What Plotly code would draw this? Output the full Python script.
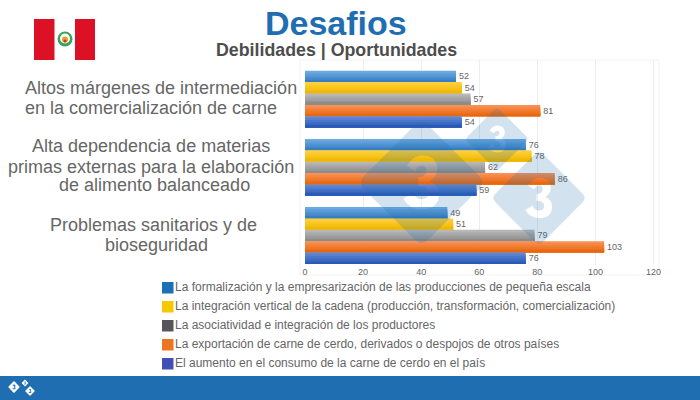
import plotly.graph_objects as go

W = 700
H = 400

# data
categories = ['Altos márgenes', 'Alta dependencia', 'Problemas sanitarios']
category_lines = ['Altos márgenes de intermediación', 'en la comercialización de carne',
                  'Alta dependencia de materias', 'primas externas para la elaboración',
                  'de alimento balanceado',
                  'Problemas sanitarios y de', 'bioseguridad']
series_names = ['La formalización y la empresarización de las producciones de pequeña escala',
                'La integración vertical de la cadena (producción, transformación, comercialización)',
                'La asociatividad e integración de los productores',
                'La exportación de carne de cerdo, derivados o despojos de otros países',
                'El aumento en el consumo de la carne de cerdo en el país']
formalizacion = [52, 76, 49]
integracion = [54, 78, 51]
asociatividad = [57, 62, 79]
exportacion = [81, 86, 103]
consumo = [54, 59, 76]
series_values = [formalizacion, integracion, asociatividad, exportacion, consumo]

# styles
line_x = [161, 151, 151, 151, 154, 153, 156]
line_y = [88, 108, 146, 166.5, 185, 225, 245]
bar_tops = [(108, 170, 226), (255, 208, 60), (184, 184, 184), (250, 144, 84), (96, 136, 214)]
bar_bottoms = [(56, 126, 194), (240, 184, 0), (140, 140, 140), (232, 104, 16), (42, 90, 184)]
legend_colors = ['#1a6fb5', '#f5c800', '#54565b', '#ec7524', '#4250b5']
BLUE = '#1f6eb1'
TEXT = '#666666'
FONT = 'Liberation Sans'
BAR_H = 0.167
STRIPES = 6


def px(x, y):
    return x / W, 1 - y / H


def pt(x, y):
    a, b = px(x, y)
    return f'{a:.5f} {b:.5f}'


def rect(x0, y0, x1, y1, color, **kw):
    a, b = px(x0, y1)
    c, d = px(x1, y0)
    return dict(type='rect', xref='paper', yref='paper', x0=a, y0=b, x1=c, y1=d,
                fillcolor=color, line_width=0, **kw)


def circle(cx, cy, r, color, **kw):
    return rect(cx - r, cy - r, cx + r, cy + r, color, **kw) | dict(type='circle')


def diamond_with_three(cx, cy, h, color, opacity, layer='above'):
    # rounded diamond, the 3 is a hole so the bars show through it
    r = h * 0.1
    d = [
        f'M {pt(cx - r, cy - h + r)}',
        f'L {pt(cx - h + r, cy - r)}', f'Q {pt(cx - h, cy)} {pt(cx - h + r, cy + r)}',
        f'L {pt(cx - r, cy + h - r)}', f'Q {pt(cx, cy + h)} {pt(cx + r, cy + h - r)}',
        f'L {pt(cx + h - r, cy + r)}', f'Q {pt(cx + h, cy)} {pt(cx + h - r, cy - r)}',
        f'L {pt(cx + r, cy - h + r)}', f'Q {pt(cx, cy - h)} {pt(cx - r, cy - h + r)}', 'Z']
    s = h * 0.42
    n = lambda a, b: pt(cx + a * s, cy + b * s)
    d += [f'M {n(-.55, -.62)}',
          f'Q {n(-.3, -1)} {n(.02, -1)}', f'Q {n(.58, -1)} {n(.58, -.5)}',
          f'Q {n(.58, -.18)} {n(.3, -.05)}', f'Q {n(.65, .08)} {n(.65, .42)}',
          f'Q {n(.65, 1)} {n(0, 1)}', f'Q {n(-.45, 1)} {n(-.68, .6)}',
          f'L {n(-.32, .38)}', f'Q {n(-.2, .62)} {n(0, .62)}',
          f'Q {n(.25, .62)} {n(.25, .38)}', f'Q {n(.25, .14)} {n(-.12, .14)}',
          f'L {n(-.12, -.2)}', f'Q {n(.18, -.2)} {n(.18, -.45)}',
          f'Q {n(.18, -.62)} {n(0, -.62)}', f'Q {n(-.14, -.62)} {n(-.24, -.42)}', 'Z']
    return dict(type='path', xref='paper', yref='paper', path=' '.join(d),
                fillcolor=color, opacity=opacity, line_width=0, layer=layer)


fig = go.Figure()

# each bar is a pile of shrinking bars to get the vertical gradient
for i, values in enumerate(series_values):
    top = -5 * BAR_H / 2 + i * BAR_H
    for k in range(STRIPES):
        t = k / (STRIPES - 1)
        c = [round(a + (b - a) * t) for a, b in zip(bar_tops[i], bar_bottoms[i])]
        fig.add_trace(go.Bar(y=categories, x=values, orientation='h',
                             width=BAR_H * (1 - k / STRIPES),
                             offset=top + k * BAR_H / STRIPES,
                             marker=dict(color=f'rgb({c[0]},{c[1]},{c[2]})', line_width=0),
                             showlegend=False, hoverinfo='skip'))
    # transparent bar only carries the value label
    fig.add_trace(go.Bar(y=categories, x=values, orientation='h', width=BAR_H, offset=top,
                         marker=dict(color='rgba(0,0,0,0)', line_width=0),
                         text=values, textposition='outside', cliponaxis=False,
                         textfont=dict(size=9, color=TEXT, family=FONT),
                         showlegend=False, name=series_names[i]))

shapes = [
    rect(0, 376, 700, 400, BLUE, layer='below'),
    rect(34, 19, 54.5, 60, '#dc1126', layer='below'),
    rect(75, 19, 95, 60, '#dc1126', layer='below'),
    circle(65, 39, 7.5, '#3aa35a', layer='below'),
    circle(65, 38.5, 5, '#ffffff', layer='below'),
    circle(65, 39.5, 3, '#e0a030', layer='below'),
    circle(65, 41, 1.5, '#d03030', layer='below'),
    diamond_with_three(421.5, 182.5, 64, BLUE, 0.2),
    diamond_with_three(497, 139, 32, BLUE, 0.2),
    diamond_with_three(539, 198, 48, BLUE, 0.2),
    diamond_with_three(14, 387, 6, '#ffffff', 1),
    diamond_with_three(25, 383, 3.5, '#ffffff', 1),
    diamond_with_three(30, 391, 5, '#ffffff', 1),
]
a, b = px(300, 275)
c, d = px(659, 60)
shapes.append(dict(type='rect', xref='paper', yref='paper', x0=a, y0=b, x1=c, y1=d,
                   line=dict(color='#f2f2f2', width=1), layer='below'))

annotations = [
    dict(text='<b>Desafios</b>', x=336 / W, y=1 - 23 / H, xref='paper', yref='paper',
         xanchor='center', yanchor='middle', showarrow=False,
         font=dict(size=34, color=BLUE, family=FONT)),
    dict(text='<b>Debilidades | Oportunidades</b>', x=336 / W, y=1 - 50 / H, xref='paper', yref='paper',
         xanchor='center', yanchor='middle', showarrow=False,
         font=dict(size=17.8, color='#4d4d4d', family=FONT)),
]
for text, x, y in zip(category_lines, line_x, line_y):
    annotations.append(dict(text=text, x=x / W, y=1 - y / H, xref='paper', yref='paper',
                            xanchor='center', yanchor='middle', showarrow=False,
                            font=dict(size=18, color=TEXT, family=FONT)))
for i, name in enumerate(series_names):
    y = 287.5 + i * 19
    shapes.append(rect(162, y - 5.5, 173.5, y + 6, legend_colors[i]))
    annotations.append(dict(text=name, x=173 / W, y=1 - (y - 0.5) / H, xref='paper', yref='paper',
                            xanchor='left', yanchor='middle', showarrow=False,
                            font=dict(size=12, color=TEXT, family=FONT)))

fig.update_layout(
    width=W, height=H,
    margin=dict(l=0, r=0, t=0, b=0, autoexpand=False),
    paper_bgcolor='white', plot_bgcolor='rgba(0,0,0,0)',
    barmode='overlay', showlegend=False,
    shapes=shapes, annotations=annotations,
    font=dict(family=FONT, color=TEXT),
    xaxis=dict(domain=[305 / W, 659 / W], range=[0, 121.9], dtick=20, showgrid=True,
               gridcolor='#ededed', gridwidth=1, zeroline=False, showline=False,
               tickfont=dict(size=9, color=TEXT), ticks=''),
    yaxis=dict(domain=[1 - 265 / H, 1 - 60 / H], type='category', categoryorder='array',
               categoryarray=categories, range=[2.433, -0.575], showticklabels=False,
               showgrid=False, zeroline=False, showline=False, ticks=''),
)

fig.write_html("out.html", config={'displayModeBar': False},
               post_script="document.body.style.margin='0';")
